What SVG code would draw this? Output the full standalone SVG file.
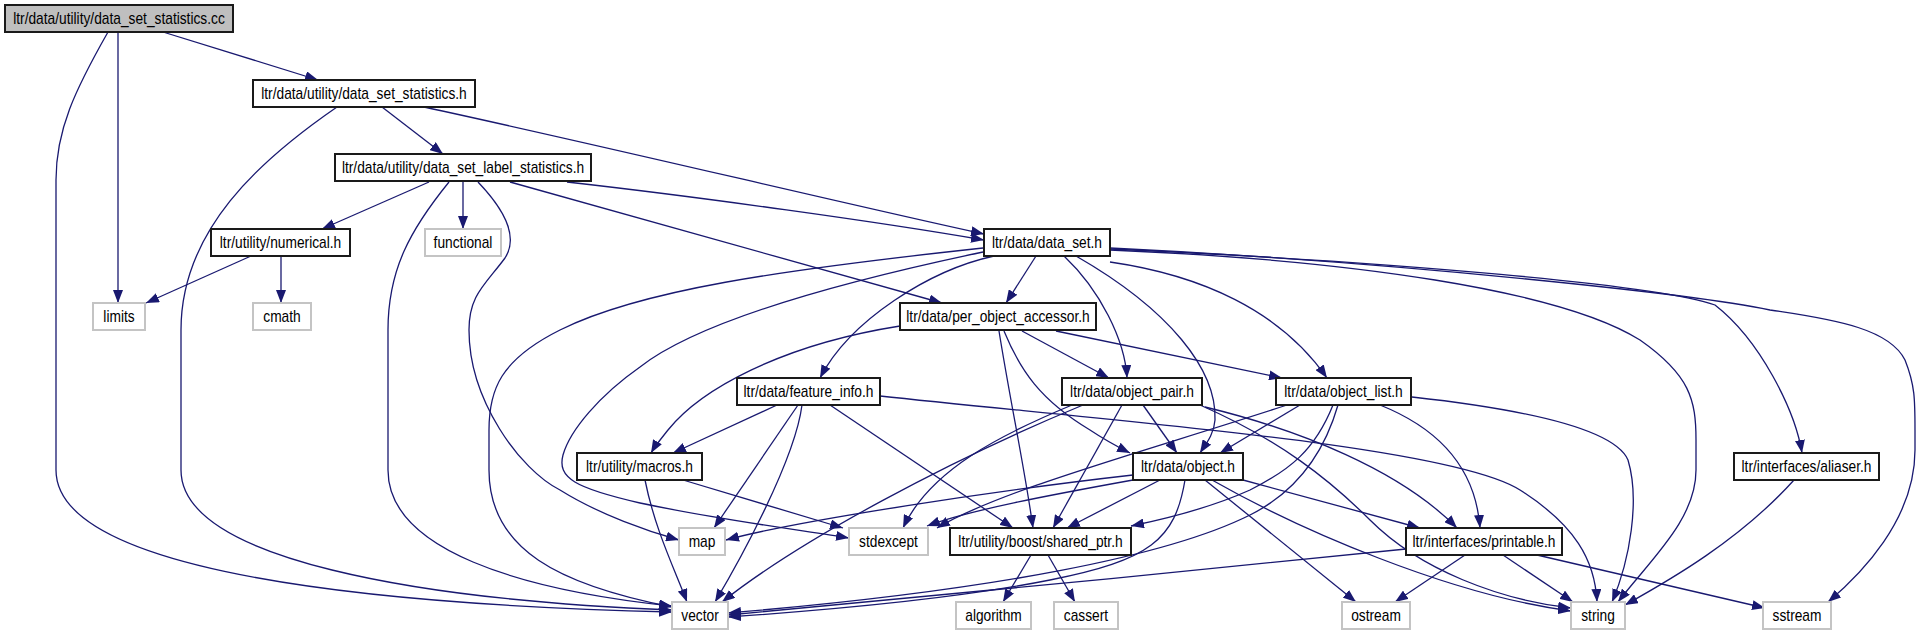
<svg xmlns="http://www.w3.org/2000/svg" width="1924" height="635" viewBox="0 0 1924 635">
<style>
.n rect{fill:#fff;stroke:#1a1a1a;stroke-width:2}
.s rect{fill:#fff;stroke:#c4c4c4;stroke-width:2}
.r rect{fill:#bfbfbf;stroke:#1a1a1a;stroke-width:2}
text{font-family:"Liberation Sans",Arial,sans-serif;font-size:16px;fill:#000;text-anchor:middle}
#edges path{fill:none;stroke:#191970;stroke-width:1.3;marker-end:url(#ah)}
</style>
<defs>
<marker id="ah" markerUnits="userSpaceOnUse" markerWidth="14" markerHeight="10" refX="13" refY="5" orient="auto">
<path d="M0,0 L13,5 L0,10 z" fill="#191970"/>
</marker>
</defs>
<rect width="1924" height="635" fill="#fff"/>
<g id="edges">
<path d="M163,32 L318,80"/>
<path d="M118,32 L118,303"/>
<path d="M108,32 C75,90 56,130 56,180 L56,470 C56,560 300,603 672,612"/>
<path d="M382,107 L443,154"/>
<path d="M337,107 C260,160 181,230 181,330 L181,470 C181,560 420,600 672,610"/>
<path d="M424,107 C600,145 850,205 984,234"/>
<path d="M429,182 L322,229"/>
<path d="M463,182 L463,229"/>
<path d="M449,182 C410,230 388,270 388,330 L388,470 C388,550 520,590 672,606"/>
<path d="M478,182 C500,205 520,235 505,258 C485,285 469,295 469,330 C469,400 520,470 560,490 C600,515 650,532 679,540"/>
<path d="M510,182 L942,303"/>
<path d="M567,182 C700,197 880,222 984,240"/>
<path d="M251,256 L146,303"/>
<path d="M281,256 L281,303"/>
<path d="M1036,256 L1006,303"/>
<path d="M994,256 C930,270 850,320 820,378"/>
<path d="M1064,256 C1100,290 1125,340 1127,378"/>
<path d="M1076,256 C1170,310 1217,370 1215,420 C1214,435 1205,445 1200,453"/>
<path d="M1110,262 C1200,275 1280,310 1327,378"/>
<path d="M983,248 C780,270 640,290 560,330 C500,360 489,390 489,430 L489,470 C489,550 560,585 672,607"/>
<path d="M983,252 C850,280 700,320 640,367 C600,395 570,430 563,455 C557,478 575,488 640,503 C720,520 800,530 849,538"/>
<path d="M1110,250 C1350,260 1560,290 1640,340 C1690,375 1696,400 1696,440 L1696,470 C1696,520 1650,560 1618,602"/>
<path d="M1110,249 C1400,262 1660,285 1715,305 C1760,340 1795,410 1802,453"/>
<path d="M1110,248 C1400,262 1700,295 1770,310 C1840,320 1890,330 1905,360 C1915,385 1915,400 1915,430 L1915,450 C1915,520 1860,575 1828,602"/>
<path d="M900,326 C780,345 700,390 668,430 C660,440 655,446 651,453"/>
<path d="M1022,331 L1109,378"/>
<path d="M1056,331 L1282,378"/>
<path d="M999,331 C1010,400 1025,470 1033,528"/>
<path d="M1004,331 C1020,370 1040,400 1090,430 C1105,440 1118,447 1130,453"/>
<path d="M777,405 L673,453"/>
<path d="M798,405 L714,528"/>
<path d="M802,405 C795,460 740,560 715,602"/>
<path d="M830,405 L1013,528"/>
<path d="M880,396 C1100,420 1450,445 1520,490 C1575,525 1595,560 1597,602"/>
<path d="M1083,405 C950,460 800,540 722,602"/>
<path d="M1072,405 C1000,435 930,470 903,528"/>
<path d="M1122,405 L1053,528"/>
<path d="M1143,405 L1177,453"/>
<path d="M1205,407 C1300,430 1400,470 1457,528"/>
<path d="M1200,405 C1280,440 1330,480 1370,520 C1420,570 1500,600 1571,608"/>
<path d="M1300,405 L1220,453"/>
<path d="M1287,405 C1150,450 1000,490 937,528"/>
<path d="M1333,405 C1315,450 1290,470 1250,490 C1210,508 1170,518 1131,526"/>
<path d="M1338,405 C1325,450 1300,490 1250,515 C1170,555 1000,590 728,613"/>
<path d="M1380,405 C1430,425 1475,460 1480,528"/>
<path d="M1412,397 C1530,410 1615,430 1628,460 C1640,500 1630,560 1612,602"/>
<path d="M1133,475 C1000,490 800,520 726,540"/>
<path d="M1133,480 C1050,495 970,510 927,526"/>
<path d="M1160,480 L1067,528"/>
<path d="M1185,480 C1175,540 1150,560 1050,580 C950,600 800,612 728,617"/>
<path d="M1243,480 L1420,528"/>
<path d="M1205,480 L1356,602"/>
<path d="M1212,480 C1300,530 1450,595 1571,611"/>
<path d="M645,480 C655,530 675,570 687,602"/>
<path d="M683,480 L843,528"/>
<path d="M1031,555 L1003,602"/>
<path d="M1048,555 L1075,602"/>
<path d="M1406,549 C1200,570 900,600 728,615"/>
<path d="M1465,555 L1395,602"/>
<path d="M1503,555 L1573,602"/>
<path d="M1537,555 L1765,608"/>
<path d="M1794,480 C1740,540 1670,580 1625,605"/>
</g>
<g id="n1" class="r"><rect x="5" y="5" width="228" height="27"/><text transform="translate(119,24) scale(0.86,1)">ltr/data/utility/data_set_statistics.cc</text></g>
<g id="n2" class="n"><rect x="253" y="80" width="222" height="27"/><text transform="translate(364,99) scale(0.86,1)">ltr/data/utility/data_set_statistics.h</text></g>
<g id="n3" class="n"><rect x="335" y="154" width="256" height="27"/><text transform="translate(463,173) scale(0.86,1)">ltr/data/utility/data_set_label_statistics.h</text></g>
<g id="n4" class="n"><rect x="211" y="229" width="139" height="27"/><text transform="translate(280.5,248) scale(0.86,1)">ltr/utility/numerical.h</text></g>
<g id="n5" class="s"><rect x="425" y="229" width="76" height="27"/><text transform="translate(463,248) scale(0.86,1)">functional</text></g>
<g id="n6" class="n"><rect x="984" y="229" width="126" height="27"/><text transform="translate(1047,248) scale(0.86,1)">ltr/data/data_set.h</text></g>
<g id="n7" class="s"><rect x="93" y="303" width="52" height="27"/><text transform="translate(119,322) scale(0.86,1)">limits</text></g>
<g id="n8" class="s"><rect x="253" y="303" width="58" height="27"/><text transform="translate(282,322) scale(0.86,1)">cmath</text></g>
<g id="n9" class="n"><rect x="900" y="303" width="196" height="27"/><text transform="translate(998,322) scale(0.86,1)">ltr/data/per_object_accessor.h</text></g>
<g id="n10" class="n"><rect x="737" y="378" width="143" height="27"/><text transform="translate(808.5,397) scale(0.86,1)">ltr/data/feature_info.h</text></g>
<g id="n11" class="n"><rect x="1062" y="378" width="140" height="27"/><text transform="translate(1132,397) scale(0.86,1)">ltr/data/object_pair.h</text></g>
<g id="n12" class="n"><rect x="1276" y="378" width="135" height="27"/><text transform="translate(1343.5,397) scale(0.86,1)">ltr/data/object_list.h</text></g>
<g id="n13" class="n"><rect x="577" y="453" width="125" height="27"/><text transform="translate(639.5,472) scale(0.86,1)">ltr/utility/macros.h</text></g>
<g id="n14" class="n"><rect x="1133" y="453" width="110" height="27"/><text transform="translate(1188,472) scale(0.86,1)">ltr/data/object.h</text></g>
<g id="n15" class="n"><rect x="1734" y="453" width="145" height="27"/><text transform="translate(1806.5,472) scale(0.86,1)">ltr/interfaces/aliaser.h</text></g>
<g id="n16" class="s"><rect x="679" y="528" width="46" height="27"/><text transform="translate(702,547) scale(0.86,1)">map</text></g>
<g id="n17" class="s"><rect x="849" y="528" width="79" height="27"/><text transform="translate(888.5,547) scale(0.86,1)">stdexcept</text></g>
<g id="n18" class="n"><rect x="950" y="528" width="181" height="27"/><text transform="translate(1040.5,547) scale(0.86,1)">ltr/utility/boost/shared_ptr.h</text></g>
<g id="n19" class="n"><rect x="1406" y="528" width="156" height="27"/><text transform="translate(1484,547) scale(0.86,1)">ltr/interfaces/printable.h</text></g>
<g id="n20" class="s"><rect x="672" y="602" width="56" height="27"/><text transform="translate(700,621) scale(0.86,1)">vector</text></g>
<g id="n21" class="s"><rect x="956" y="602" width="75" height="27"/><text transform="translate(993.5,621) scale(0.86,1)">algorithm</text></g>
<g id="n22" class="s"><rect x="1054" y="602" width="64" height="27"/><text transform="translate(1086,621) scale(0.86,1)">cassert</text></g>
<g id="n23" class="s"><rect x="1342" y="602" width="68" height="27"/><text transform="translate(1376,621) scale(0.86,1)">ostream</text></g>
<g id="n24" class="s"><rect x="1571" y="602" width="54" height="27"/><text transform="translate(1598,621) scale(0.86,1)">string</text></g>
<g id="n25" class="s"><rect x="1763" y="602" width="68" height="27"/><text transform="translate(1797,621) scale(0.86,1)">sstream</text></g>
</svg>
